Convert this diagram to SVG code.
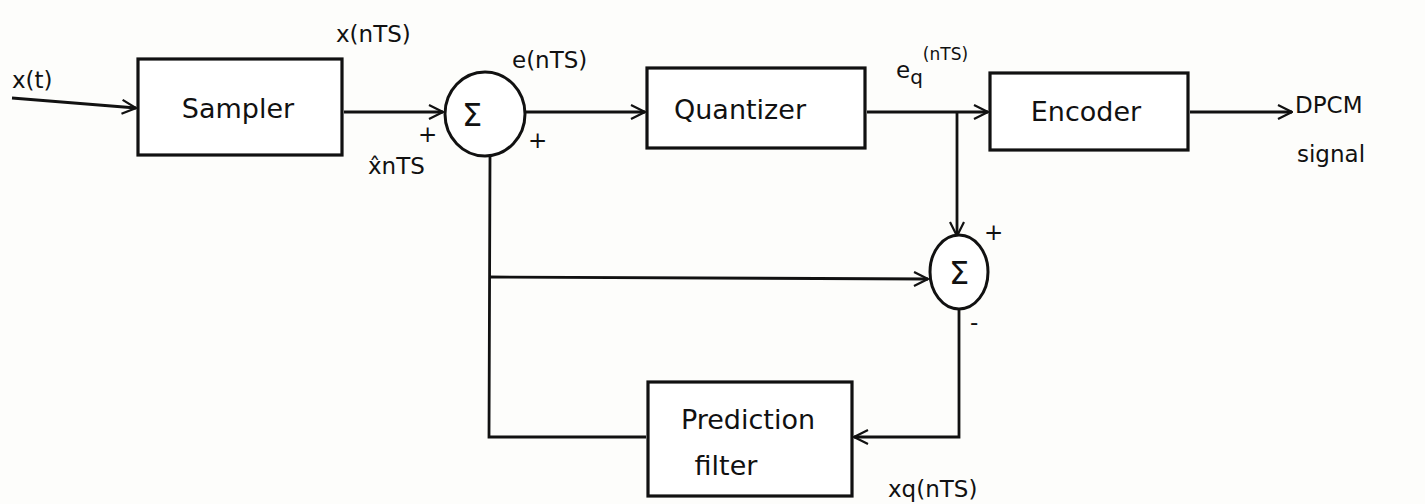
<svg xmlns="http://www.w3.org/2000/svg" width="1425" height="504" viewBox="0 0 1425 504">
<defs>
<marker id="arr" viewBox="0 0 16 16" refX="15" refY="8" markerWidth="16" markerHeight="16" markerUnits="userSpaceOnUse" orient="auto">
<path d="M1,1 L15,8 L1,15" fill="none" stroke="#111" stroke-width="2.2"/>
</marker>
<style>
.box{fill:#fff;stroke:#111;stroke-width:3.2}
.sum{fill:#fff;stroke:#111;stroke-width:3}
.w{stroke:#111;stroke-width:2.8;fill:none}
.t{font-family:"DejaVu Sans","Liberation Sans",sans-serif;fill:#111}
.bt{font-size:27px}
.lb{font-size:23px}
.sg{font-size:32px}
</style>
</defs>
<rect width="1425" height="504" fill="#fdfdfb"/>
<g id="connectors">
<path class="w" d="M12,98 L136,108" marker-end="url(#arr)"/>
<path class="w" d="M344,112 L443,112" marker-end="url(#arr)"/>
<path class="w" d="M525,112 L645,112" marker-end="url(#arr)"/>
<path class="w" d="M867,112 L988,112" marker-end="url(#arr)"/>
<path class="w" d="M1190,112 L1292,112" marker-end="url(#arr)"/>
<path class="w" d="M957,112 L957,236" marker-end="url(#arr)"/>
<path class="w" d="M490,157 L489,437 L646,437"/>
<path class="w" d="M489,277 L928,279" marker-end="url(#arr)"/>
<path class="w" d="M959,309 L959,437 L854,437" marker-end="url(#arr)"/>
</g>
<g id="input-label"><text class="t lb" x="12" y="88">x(t)</text></g>
<g id="sampler">
<rect class="box" x="138" y="59" width="204" height="96"/>
<text class="t bt" x="238" y="118" text-anchor="middle">Sampler</text>
<text class="t lb" x="336" y="42">x(nTS)</text>
</g>
<g id="sum1">
<ellipse class="sum" cx="485" cy="114" rx="40" ry="42"/>
<text class="t sg" x="472" y="126" text-anchor="middle">Σ</text>
<text class="t lb" x="418" y="142">+</text>
<text class="t lb" x="368" y="174">x̂nTS</text>
<text class="t lb" x="528" y="148">+</text>
<text class="t lb" x="512" y="68">e(nTS)</text>
</g>
<g id="quantizer">
<rect class="box" x="647" y="68" width="218" height="80"/>
<text class="t bt" x="740" y="119" text-anchor="middle">Quantizer</text>
</g>
<g id="eq-label">
<text class="t lb" x="896" y="78" font-size="26">e<tspan font-size="20" dy="6">q</tspan><tspan font-size="17" dy="-24">(nTS)</tspan></text>
</g>
<g id="encoder">
<rect class="box" x="990" y="73" width="198" height="77"/>
<text class="t bt" x="1086" y="121" text-anchor="middle">Encoder</text>
</g>
<g id="output-label">
<text class="t lb" x="1295" y="113">DPCM</text>
<text class="t lb" x="1297" y="162">signal</text>
</g>
<g id="sum2">
<ellipse class="sum" cx="959" cy="272" rx="29" ry="37"/>
<text class="t sg" x="959" y="284" text-anchor="middle">Σ</text>
<text class="t lb" x="984" y="240">+</text>
<text class="t lb" x="970" y="330">-</text>
</g>
<g id="prediction-filter">
<rect class="box" x="648" y="382" width="204" height="114"/>
<text class="t bt" x="748" y="429" text-anchor="middle">Prediction</text>
<text class="t bt" x="726" y="475" text-anchor="middle">filter</text>
<text class="t lb" x="888" y="497">xq(nTS)</text>
</g>
</svg>
